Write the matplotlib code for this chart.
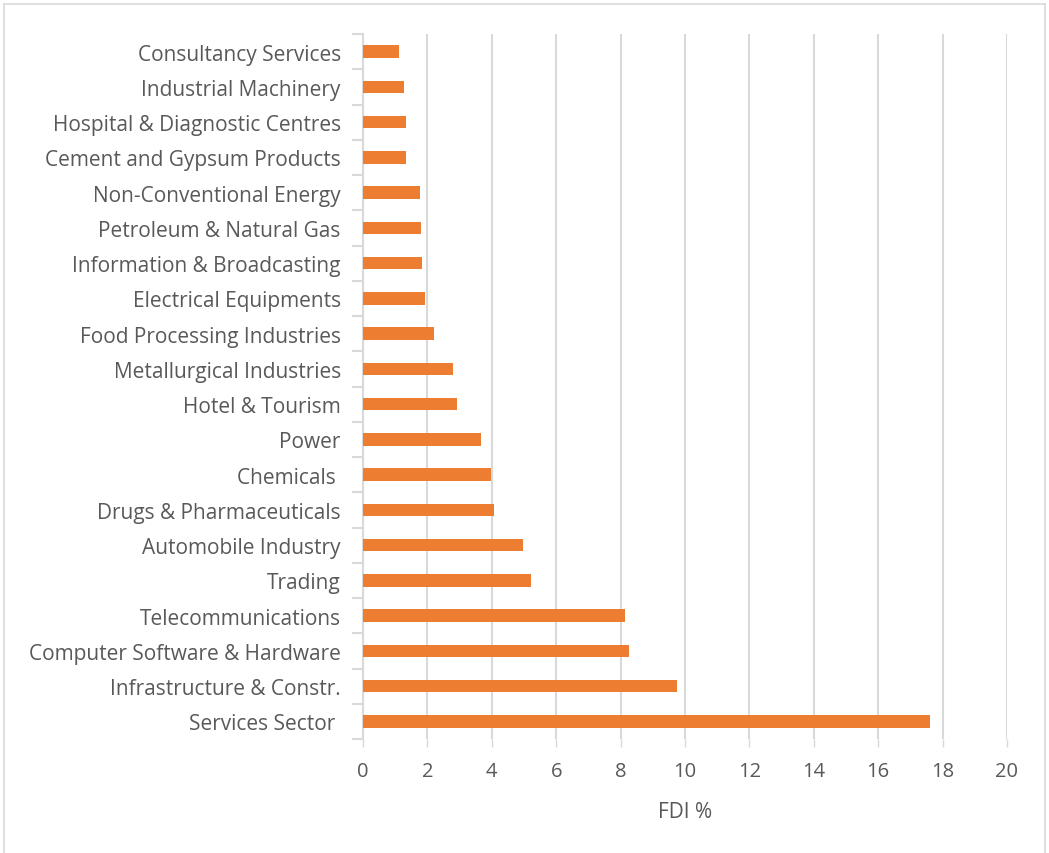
import matplotlib
matplotlib.use("Agg")
import matplotlib.pyplot as plt
from matplotlib.lines import Line2D
import numpy as np

# Sector names, listed bottom to top
sectors = [
    "Services Sector ",
    "Infrastructure & Constr.",
    "Computer Software & Hardware",
    "Telecommunications",
    "Trading",
    "Automobile Industry",
    "Drugs & Pharmaceuticals",
    "Chemicals ",
    "Power",
    "Hotel & Tourism",
    "Metallurgical Industries",
    "Food Processing Industries",
    "Electrical Equipments",
    "Information & Broadcasting",
    "Petroleum & Natural Gas",
    "Non-Conventional Energy",
    "Cement and Gypsum Products",
    "Hospital & Diagnostic Centres",
    "Industrial Machinery",
    "Consultancy Services",
]
# Share of FDI inflows (%)
fdi_share = [17.61, 9.74, 8.27, 8.14, 5.21, 4.98, 4.07, 3.97, 3.65, 2.92,
             2.79, 2.21, 1.94, 1.84, 1.80, 1.76, 1.35, 1.35, 1.26, 1.13]
x_ticks = [0, 2, 4, 6, 8, 10, 12, 14, 16, 18, 20]

plt.rcParams["font.family"] = ["Open Sans", "DejaVu Sans"]
grid_col = "#d9d9d9"
text_col = "#595959"

fig = plt.figure(figsize=(10.49, 8.54), dpi=100)
ax = fig.add_axes([363 / 1049, 1 - 740 / 854, 644 / 1049, 705 / 854])

y = np.arange(len(sectors))
ax.barh(y, fdi_share, height=0.36, color="#ED7D31", zorder=3)

ax.set_xlim(0, 20)
ax.set_ylim(-0.5, len(sectors) - 0.5)
ax.set_xticks(x_ticks)
ax.set_xticklabels([str(t) for t in x_ticks])
ax.xaxis.grid(True, color=grid_col, linewidth=1.5, zorder=0)
ax.tick_params(axis="x", length=6, width=1.0, color=grid_col, pad=10,
               labelsize=14.5, labelcolor=text_col)

ax.set_yticks(y)
ax.set_yticklabels(sectors)
ax.set_yticks(np.arange(-0.5, len(sectors)), minor=True)
ax.tick_params(axis="y", which="major", length=0, pad=16,
               labelsize=15, labelcolor=text_col)
ax.tick_params(axis="y", which="minor", length=8, width=1.5, color=grid_col)

for side in ("top", "right", "bottom"):
    ax.spines[side].set_visible(False)
ax.spines["left"].set_color(grid_col)
ax.spines["left"].set_linewidth(1.5)

ax.set_xlabel("FDI %", fontsize=15, color=text_col, labelpad=14)

# Light outer frame around the chart area
frame_kw = dict(color=grid_col, linewidth=1.2, transform=fig.transFigure)
fig.add_artist(Line2D([4 / 1049, 1045 / 1049], [1 - 5 / 854, 1 - 5 / 854], **frame_kw))
fig.add_artist(Line2D([4 / 1049, 4 / 1049], [0, 1 - 5 / 854], **frame_kw))
fig.add_artist(Line2D([1045 / 1049, 1045 / 1049], [0, 1 - 5 / 854], **frame_kw))

fig.savefig("out.png", dpi=100, facecolor="white")
